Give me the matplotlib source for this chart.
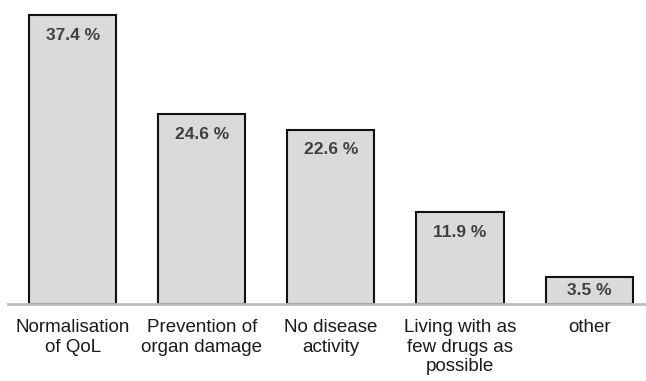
import matplotlib.pyplot as plt
import numpy as np

plt.rcParams['font.family'] = ['Liberation Sans', 'DejaVu Sans']

# goals of treatment, share of answers in %
categories = ['Normalisation\nof QoL', 'Prevention of\norgan damage', 'No disease\nactivity',
              'Living with as\nfew drugs as\npossible', 'other']
values = [37.4, 24.6, 22.6, 11.9, 3.5]
value_labels = ['37.4 %', '24.6 %', '22.6 %', '11.9 %', '3.5 %']

fig = plt.figure(figsize=(6.46, 3.81), dpi=100)
ax = fig.add_axes([8 / 646, 77 / 381, 1 - 8 / 646, 304 / 381])

x = np.arange(len(categories))
bars = ax.bar(x, values, width=0.675, color='#dadada', edgecolor='#111111', linewidth=1.5, zorder=2)

for b, lab in zip(bars, value_labels):
    cx = b.get_x() + b.get_width() / 2
    h = b.get_height()
    if h > 6:
        ax.annotate(lab, (cx, h), xytext=(0, -9), textcoords='offset points',
                    ha='center', va='top', fontsize=12.5, fontweight='bold', color='#404040', zorder=3)
    else:
        # short bar: label sits in the middle
        ax.text(cx, h / 2, lab, ha='center', va='center', fontsize=12.5,
                fontweight='bold', color='#404040', zorder=3)

ax.set_xlim(-0.5, 4.44)
ax.set_ylim(0, 39.4)
ax.set_xticks(x)
ax.set_xticklabels(categories, fontsize=13.5, color='#1a1a1a', linespacing=1.2)
ax.tick_params(axis='x', length=0, pad=11)
ax.set_yticks([])

for s in ['top', 'right', 'left']:
    ax.spines[s].set_visible(False)
ax.spines['bottom'].set_color('#bdbdbd')
ax.spines['bottom'].set_linewidth(2)
ax.spines['bottom'].set_zorder(3)

fig.savefig('out.png', dpi=100)
